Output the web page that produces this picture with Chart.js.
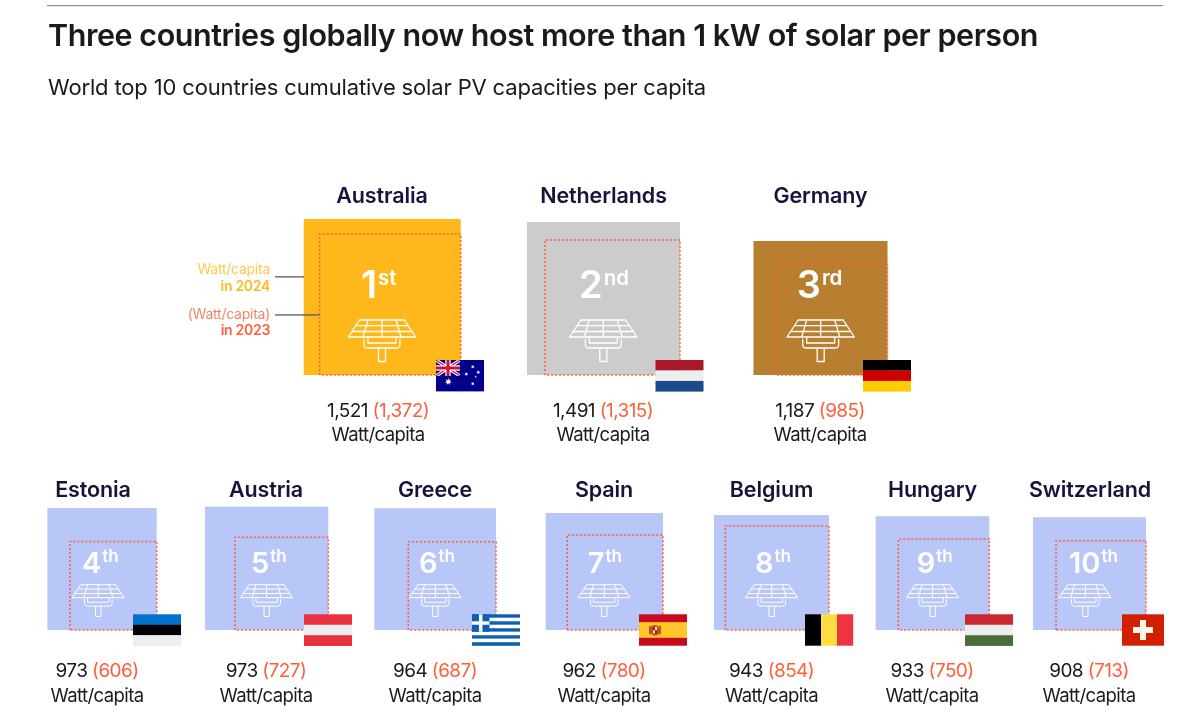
<!DOCTYPE html>
<html><head><meta charset="utf-8">
<style>html,body{margin:0;padding:0;background:#fff}canvas{display:block}</style>
<script src="https://cdn.jsdelivr.net/npm/chart.js@4"></script>
</head><body><canvas id="c" width="1200" height="722"></canvas>
<script>
// ---- data ----
const countries = ["Australia","Netherlands","Germany","Estonia","Austria","Greece","Spain","Belgium","Hungary","Switzerland"];
const rankNumbers = ["1","2","3","4","5","6","7","8","9","10"];
const rankSuffixes = ["st","nd","rd","th","th","th","th","th","th","th"];
const watt2024 = [1521,1491,1187,973,973,964,962,943,933,908];
const watt2023 = [1372,1315,985,606,727,687,780,854,750,713];
const unitLabel = "Watt/capita";
const titleText = "Three countries globally now host more than 1 kW of solar per person";
const subtitleText = "World top 10 countries cumulative solar PV capacities per capita";

// ---- layout (page units: the scales run 0..1200 and 0..722) ----
const rowOf = [0,0,0,1,1,1,1,1,1,1];
const baseLine = [375,630];
const rightEdge = [460.7,680,887.5,156.7,328.3,496,663,829,989.3,1146];
const widthPerWatt24 = [.1032,.1026,.1129,.1124,.1267,.1262,.122,.122,.1218,.1244];
const heightPerWatt24 = [.1026,.1026,.1129,.1254,.1267,.1262,.1216,.122,.1218,.1241];
const widthPerWatt23 = [.1028,.1027,.1135,.1431,.1284,.1277,.1227,.1214,.1213,.1262];
const heightPerWatt23 = [.1028,.1027,.1135,.1462,.1275,.1285,.1218,.1218,.1213,.1252];
const fills = ["#FFB81C","#CCCCCC","#B87F31"];
const rowFill = "#B8C6F8";
const nameX = [382,603.5,820.5,93,266,435,604,771.5,932.5,1090];
const valueX = [378,603,820,97,266,435,604,771.5,932,1089];
const iconX = [382,603.3,820.7,98.3,266.7,435.3,604.3,771.7,932.7,1085.3];
const rankX = [361,579,796.7,82,251,419,587.7,755,916.7,1069];
const flagX = [436,655.5,863,133,304,472,639,805,965,1122];
const rowText = [
 {name:203,val:417,unit:441,rank:298,sup:285,iconTop:319.5,iconS:1,flagY:360,rf:38,sf:20.5},
 {name:496.5,val:677,unit:701.5,rank:572.7,sup:561.7,iconTop:584.3,iconS:.765,flagY:614.3,rf:29,sf:17}
];
const FONT = "Inter";
const NAVY = "#14143C", ORANGE = "#FF5F38", INK = "#1A1A1A";

function square(i, w, h){
  const r = rightEdge[i], b = baseLine[rowOf[i]], l = r-w, t = b-h;
  return [{x:l,y:b},{x:l,y:t},{x:r,y:t},{x:r,y:b},{x:l,y:b}];
}
const datasets = [];
countries.forEach((c,i)=>{
  datasets.push({label:c+" 2024",order:2,showLine:true,data:square(i,watt2024[i]*widthPerWatt24[i],watt2024[i]*heightPerWatt24[i]),
    borderWidth:0,borderColor:"transparent",backgroundColor:i<3?fills[i]:rowFill,fill:"shape",pointRadius:0,tension:0});
  datasets.push({label:c+" 2023",order:1,showLine:true,data:square(i,watt2023[i]*widthPerWatt23[i],watt2023[i]*heightPerWatt23[i]),
    borderWidth:1.5,borderColor:ORANGE,borderDash:[2,2],fill:false,pointRadius:0,tension:0});
});

function txt(ctx,s,x,y,o){
  ctx.font=o.font; ctx.fillStyle=o.color; ctx.textAlign=o.align||"left"; ctx.textBaseline="alphabetic";
  ctx.letterSpacing="0px";
  let ls=o.ls||0;
  if(o.w){ ls=(o.w-ctx.measureText(s).width)/s.length; }
  ctx.letterSpacing=ls+"px";
  ctx.fillText(s,x,y);
  const m=ctx.measureText(s).width;
  ctx.letterSpacing="0px";
  return m;
}
function icon(ctx,cx,top,s){
  ctx.save(); ctx.translate(cx,top); ctx.scale(s,s);
  ctx.strokeStyle="#fff"; ctx.lineWidth=1.3; ctx.lineJoin="round"; ctx.lineCap="round";
  ctx.beginPath();
  ctx.moveTo(-22.5,.5);ctx.lineTo(22.5,.5);ctx.lineTo(33.7,17.5);ctx.lineTo(-33.7,17.5);ctx.closePath();
  ctx.moveTo(-14,.5);ctx.lineTo(-19,17.5);ctx.moveTo(0,.5);ctx.lineTo(0,17.5);ctx.moveTo(14,.5);ctx.lineTo(19,17.5);
  ctx.moveTo(-26.3,6.2);ctx.lineTo(26.3,6.2);ctx.moveTo(-30,12);ctx.lineTo(30,12);
  ctx.moveTo(-14,18);ctx.lineTo(-14,23.5);ctx.lineTo(14,23.5);ctx.lineTo(14,18);
  ctx.moveTo(-18,20);ctx.lineTo(-18,25);ctx.quadraticCurveTo(-18,28.5,-14.5,28.5);ctx.lineTo(14.5,28.5);ctx.quadraticCurveTo(18,28.5,18,25);ctx.lineTo(18,20);
  ctx.moveTo(-3.5,28.5);ctx.lineTo(-3.5,42);ctx.lineTo(3.5,42);ctx.lineTo(3.5,28.5);
  ctx.stroke(); ctx.restore();
}
function stripesH(ctx,x,y,w,h,cols){const n=cols.length;cols.forEach((c,k)=>{ctx.fillStyle=c;ctx.fillRect(x,y+h*k/n,w,h/n+.2);});}
function stripesV(ctx,x,y,w,h,cols){const n=cols.length;cols.forEach((c,k)=>{ctx.fillStyle=c;ctx.fillRect(x+w*k/n,y,w/n+.2,h);});}
function star(ctx,x,y,r,n){ctx.beginPath();for(let k=0;k<n*2;k++){const a=-Math.PI/2+k*Math.PI/n,q=k%2?r*.45:r;ctx.lineTo(x+q*Math.cos(a),y+q*Math.sin(a));}ctx.closePath();ctx.fill();}
function flag(ctx,c,x,y){
  const w=48,h=31.4;
  if(c==="Australia"){
    ctx.fillStyle="#00008B";ctx.fillRect(x,y,w,h);
    const uw=24,uh=16;
    ctx.save();ctx.beginPath();ctx.rect(x,y,uw,uh);ctx.clip();
    ctx.strokeStyle="#fff";ctx.lineWidth=3.4;ctx.beginPath();ctx.moveTo(x,y);ctx.lineTo(x+uw,y+uh);ctx.moveTo(x+uw,y);ctx.lineTo(x,y+uh);ctx.stroke();
    ctx.strokeStyle="#D0103A";ctx.lineWidth=1.2;ctx.stroke();
    ctx.fillStyle="#fff";ctx.fillRect(x+uw/2-2.7,y,5.4,uh);ctx.fillRect(x,y+uh/2-2.7,uw,5.4);
    ctx.fillStyle="#D0103A";ctx.fillRect(x+uw/2-1.5,y,3,uh);ctx.fillRect(x,y+uh/2-1.5,uw,3);
    ctx.restore();
    ctx.fillStyle="#fff";
    star(ctx,x+12.3,y+21.7,3.6,7);
    star(ctx,x+36.7,y+6.7,2,7);star(ctx,x+30.3,y+14,2,7);star(ctx,x+42.3,y+12.3,2,7);star(ctx,x+39.7,y+16.7,1.2,5);star(ctx,x+36.7,y+23.7,2,7);
  } else if(c==="Netherlands") stripesH(ctx,x,y,w,h,["#A8182A","#EDEDED","#1C4B8B"]);
  else if(c==="Germany") stripesH(ctx,x,y,w,h,["#000000","#CC0000","#FFCC00"]);
  else if(c==="Estonia") stripesH(ctx,x,y,w,h,["#0072CE","#000000","#EDEDED"]);
  else if(c==="Austria") stripesH(ctx,x,y,w,h,["#E8303F","#EDEDED","#E8303F"]);
  else if(c==="Hungary") stripesH(ctx,x,y,w,h,["#C8282F","#EDEDED","#4A6B3A"]);
  else if(c==="Belgium") stripesV(ctx,x,y,w,h,["#000000","#FFDD40","#EF3340"]);
  else if(c==="Spain"){
    ctx.fillStyle="#C60B1E";ctx.fillRect(x,y,w,h);
    ctx.fillStyle="#FFC72C";ctx.fillRect(x,y+h/4,w,h/2);
    ctx.fillStyle="#B5541C";ctx.beginPath();ctx.arc(x+16,y+16,5.2,0,Math.PI*2);ctx.fill();
    ctx.fillRect(x+10,y+11.5,1.8,8.5);ctx.fillRect(x+20.2,y+11.5,1.8,8.5);
    ctx.fillStyle="#C60B1E";ctx.fillRect(x+14,y+12.5,2,3.5);ctx.fillStyle="#F2E6C8";ctx.fillRect(x+16,y+12.5,2,3.5);
    ctx.fillStyle="#F2E6C8";ctx.fillRect(x+14,y+16,2,3);ctx.fillStyle="#C60B1E";ctx.fillRect(x+16,y+16,2,3);
  } else if(c==="Greece"){
    const sh=h/9;
    for(let k=0;k<9;k++){ctx.fillStyle=k%2?"#fff":"#0D5EB5";ctx.fillRect(x,y+k*sh,w,sh+.1);}
    ctx.fillStyle="#0D5EB5";ctx.fillRect(x,y,sh*5,sh*5);
    ctx.fillStyle="#fff";ctx.fillRect(x+sh*2,y,sh,sh*5);ctx.fillRect(x,y+sh*2,sh*5,sh);
  } else if(c==="Switzerland"){
    const sw=42;
    ctx.fillStyle="#D02000";ctx.fillRect(x,y,sw,h);
    ctx.fillStyle="#FFF8E8";ctx.fillRect(x+sw/2-3,y+h/2-10,6,20);ctx.fillRect(x+sw/2-10,y+h/2-3,20,6);
  }
}
const overlay = {
  id:"overlay",
  afterDatasetsDraw(chart){
    const ctx=chart.ctx; ctx.save();
    // top rule
    ctx.fillStyle="#8A8AA0";ctx.fillRect(47,5,1116,1.2);
    txt(ctx,titleText,48,45.5,{font:"600 30.5px "+FONT,color:INK,w:990});
    txt(ctx,subtitleText,48,95,{font:"400 22px "+FONT,color:INK,w:658});
    // key at Australia
    ctx.fillStyle="#55557A";ctx.fillRect(275,276.2,29,1.3);ctx.fillRect(275,314.3,44.5,1.3);
    txt(ctx,unitLabel,270,274,{font:"400 14px "+FONT,color:"#FFC94D",align:"right",ls:-.25});
    txt(ctx,"in 2024",270,290.5,{font:"600 14px "+FONT,color:"#FFB81C",align:"right",ls:-.3});
    txt(ctx,"("+unitLabel+")",270,319,{font:"400 14px "+FONT,color:"#F48468",align:"right",ls:-.25});
    txt(ctx,"in 2023",270,335,{font:"600 14px "+FONT,color:ORANGE,align:"right",ls:-.3});
    countries.forEach((c,i)=>{
      const R=rowText[rowOf[i]];
      txt(ctx,c,nameX[i],R.name,{font:"600 21.5px "+FONT,color:NAVY,align:"center",ls:-.1});
      const a=watt2024[i].toLocaleString("en-US"), b="("+watt2023[i].toLocaleString("en-US")+")";
      ctx.font="400 19px "+FONT; ctx.letterSpacing="-0.6px";
      const wa=ctx.measureText(a+" ").width, wb=ctx.measureText(b).width; ctx.letterSpacing="0px";
      const x0=valueX[i]-(wa+wb)/2;
      txt(ctx,a,x0,R.val,{font:"400 19px "+FONT,color:INK,ls:-.6});
      txt(ctx,b,x0+wa,R.val,{font:"400 19px "+FONT,color:ORANGE,ls:-.6});
      txt(ctx,unitLabel,valueX[i],R.unit,{font:"400 18.5px "+FONT,color:INK,align:"center",w:93});
      const dw=txt(ctx,rankNumbers[i],rankX[i],R.rank,{font:"600 "+R.rf+"px "+FONT,color:"#fff"});
      txt(ctx,rankSuffixes[i],rankX[i]+dw+1,R.sup,{font:"600 "+R.sf+"px "+FONT,color:"#fff"});
      icon(ctx,iconX[i],R.iconTop,R.iconS);
      flag(ctx,c,flagX[i],R.flagY);
    });
    ctx.restore();
  }
};
new Chart(document.getElementById("c"),{
  type:"scatter",
  data:{datasets},
  plugins:[overlay],
  options:{
    responsive:false,animation:false,devicePixelRatio:1,
    layout:{padding:0},
    plugins:{legend:{display:false},tooltip:{enabled:false},title:{display:false}},
    scales:{
      x:{type:"linear",min:0,max:1200,display:false},
      y:{type:"linear",min:0,max:722,reverse:true,display:false}
    }
  }
});
</script></body></html>
